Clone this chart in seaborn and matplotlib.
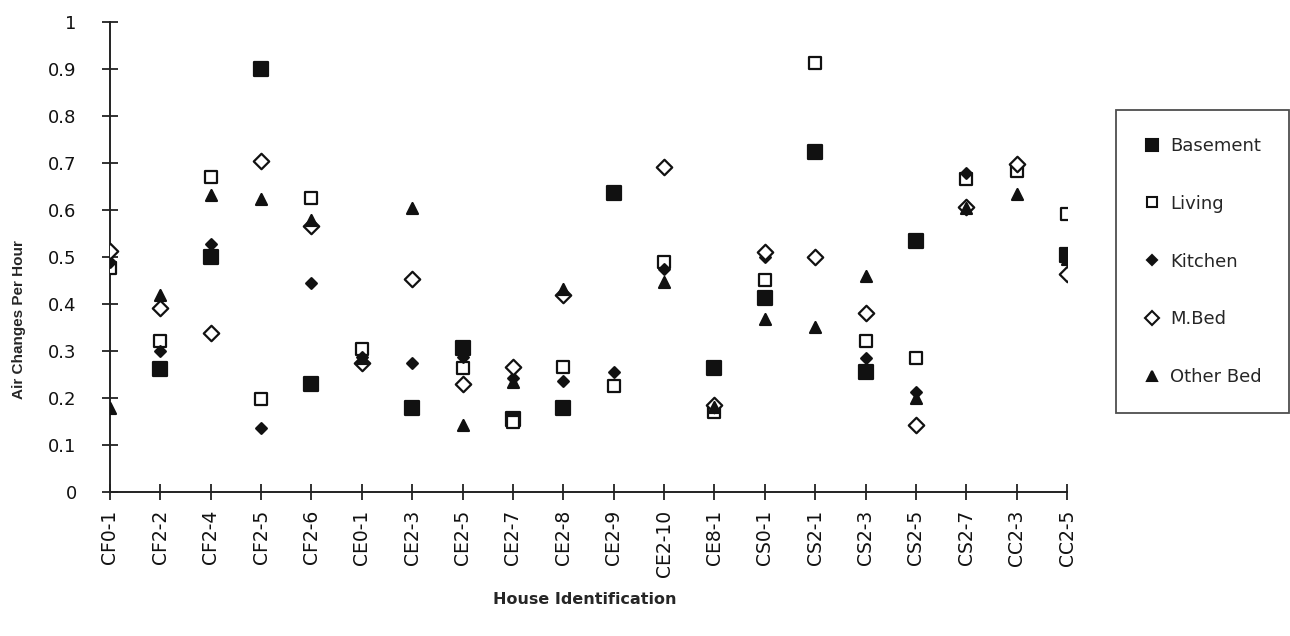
import numpy as np
import pandas as pd
import matplotlib
matplotlib.use("Agg")
import matplotlib.pyplot as plt
import seaborn as sns
from matplotlib.lines import Line2D

houses = ["CF0-1", "CF2-2", "CF2-4", "CF2-5", "CF2-6", "CE0-1", "CE2-3", "CE2-5",
          "CE2-7", "CE2-8", "CE2-9", "CE2-10", "CE8-1", "CS0-1", "CS2-1", "CS2-3",
          "CS2-5", "CS2-7", "CC2-3", "CC2-5"]

nan = np.nan
basement = [nan, 0.262, 0.500, 0.900, 0.230, nan, 0.179, 0.306, 0.155, 0.179,
            0.636, nan, 0.264, 0.413, 0.723, 0.255, 0.534, nan, nan, 0.505]
living = [0.477, 0.321, 0.671, 0.198, 0.625, 0.305, nan, 0.264, 0.150, 0.267,
          0.226, 0.489, 0.170, 0.451, 0.913, 0.321, 0.285, 0.666, 0.683, 0.591]
kitchen = [0.490, 0.300, 0.528, 0.137, 0.444, 0.288, 0.275, 0.288, 0.242, 0.236,
           0.255, 0.474, nan, 0.500, nan, 0.285, 0.213, 0.678, nan, 0.500]
m_bed = [0.512, 0.391, 0.338, 0.704, 0.565, 0.275, 0.453, 0.229, 0.267, 0.419,
         nan, 0.691, 0.185, 0.511, 0.500, 0.381, 0.143, 0.607, 0.698, 0.464]
other_bed = [0.179, 0.419, 0.632, 0.623, 0.579, 0.285, 0.604, 0.143, 0.235, 0.432,
             nan, 0.447, 0.180, 0.368, 0.351, 0.459, 0.200, 0.605, 0.634, 0.495]

series = {
    "Basement": basement,
    "Living": living,
    "Kitchen": kitchen,
    "M.Bed": m_bed,
    "Other Bed": other_bed,
}

# marker, scatter size, legend size, face colour for each room
styles = {
    "Basement": ("s", 110, 8.0, "#111111"),
    "Living": ("s", 75, 7.5, "white"),
    "Kitchen": ("D", 30, 5.0, "#111111"),
    "M.Bed": ("D", 62, 7.0, "white"),
    "Other Bed": ("^", 62, 7.0, "#111111"),
}

rows = []
for room, vals in series.items():
    for i, (h, v) in enumerate(zip(houses, vals)):
        rows.append({"pos": i, "House": h, "Room": room, "ACH": v})
df = pd.DataFrame(rows)

sns.set_theme(style="white")
plt.rcParams["font.family"] = ["DejaVu Sans"]

fig = plt.figure(figsize=(12.9, 6.36), dpi=100)
ax = fig.add_axes([110 / 1290, 1 - 492 / 636, 957 / 1290, 470 / 636])

for room in series:
    marker, size, _, face = styles[room]
    sub = df[df["Room"] == room].dropna()
    sns.scatterplot(data=sub, x="pos", y="ACH", ax=ax, marker=marker, s=size,
                    facecolor=face, edgecolor="#111111", linewidth=1.6,
                    legend=False, zorder=3)

ax.set_xticks(range(len(houses)))
ax.set_xticklabels(houses, rotation=90, fontsize=13.5)
ax.set_xlim(0, len(houses) - 1)
ax.set_ylim(0, 1)
yt = np.round(np.arange(0, 1.01, 0.1), 1)
ax.set_yticks(yt)
ax.set_yticklabels(["0"] + [f"{v:g}" for v in yt[1:-1]] + ["1"], fontsize=13)

for side in ["top", "right"]:
    ax.spines[side].set_visible(False)
for side in ["left", "bottom"]:
    ax.spines[side].set_color("#222222")
    ax.spines[side].set_linewidth(1.4)
ax.tick_params(axis="both", which="major", bottom=True, left=True,
               direction="inout", length=12, width=1.3, color="#222222",
               labelcolor="#111111")
ax.tick_params(axis="x", pad=7)
ax.tick_params(axis="y", pad=18)
ax.grid(False)
ax.set_xlabel("")
ax.set_ylabel("")

fig.text(585 / 1290, 1 - 600 / 636, "House Identification", fontsize=11.5,
         fontweight="bold", ha="center", va="center")
fig.text(19 / 1290, 1 - 320 / 636, "Air Changes Per Hour", fontsize=11,
         fontweight="bold", ha="center", va="center", rotation=90,
         family=["Liberation Sans", "DejaVu Sans"])

handles = []
for room in series:
    marker, _, ms, face = styles[room]
    handles.append(Line2D([], [], linestyle="none", marker=marker, markersize=ms,
                          markerfacecolor=face, markeredgecolor="#111111",
                          markeredgewidth=1.5, label=room))
leg = fig.legend(handles=handles, loc="upper left",
                 bbox_to_anchor=(1116 / 1290, 1 - 110 / 636),
                 frameon=True, fontsize=13, labelspacing=2.2, handletextpad=0.5,
                 borderpad=1.5, handlelength=1.0, borderaxespad=0, fancybox=False)
leg.get_frame().set_edgecolor("#222222")
leg.get_frame().set_linewidth(1.3)

fig.savefig("out.png", dpi=100, facecolor="white")
